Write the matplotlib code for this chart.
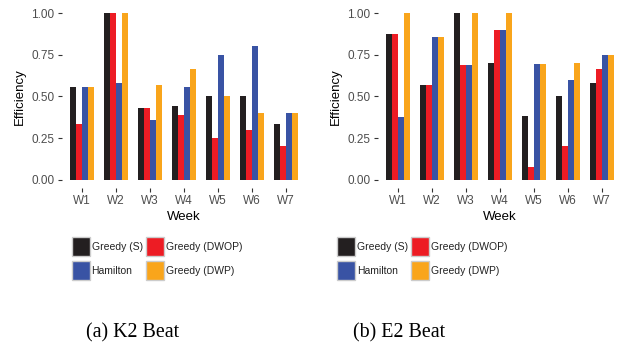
import numpy as np
import matplotlib
matplotlib.use('Agg')
import matplotlib.pyplot as plt
from matplotlib.patches import Patch

weeks = ['W1', 'W2', 'W3', 'W4', 'W5', 'W6', 'W7']
methods = ['Greedy (S)', 'Greedy (DWOP)', 'Hamilton', 'Greedy (DWP)']
colors = ['#231F20', '#ED1C24', '#3953A4', '#F9A51B']

# K2 Beat
k2_greedy_s = [0.556, 1.0, 0.429, 0.444, 0.5, 0.5, 0.333]
k2_greedy_dwop = [0.333, 1.0, 0.429, 0.389, 0.25, 0.3, 0.2]
k2_hamilton = [0.556, 0.583, 0.357, 0.556, 0.75, 0.8, 0.4]
k2_greedy_dwp = [0.556, 1.0, 0.571, 0.667, 0.5, 0.4, 0.4]

# E2 Beat
e2_greedy_s = [0.875, 0.571, 1.0, 0.7, 0.385, 0.5, 0.583]
e2_greedy_dwop = [0.875, 0.571, 0.6875, 0.9, 0.077, 0.2, 0.667]
e2_hamilton = [0.375, 0.857, 0.6875, 0.9, 0.692, 0.6, 0.75]
e2_greedy_dwp = [1.0, 0.857, 1.0, 1.0, 0.692, 0.7, 0.75]

plt.rcParams['font.family'] = ['Liberation Sans', 'DejaVu Sans']

fig = plt.figure(figsize=(6.21, 3.49), dpi=100)

W = 621.0
H = 349.0
ax1 = fig.add_axes([61.6 / W, (H - 188) / H, (306 - 61.6) / W, (188 - 4.7) / H])
ax2 = fig.add_axes([377.6 / W, (H - 188) / H, (622.4 - 377.6) / W, (188 - 4.7) / H])

panels = [
    (ax1, [k2_greedy_s, k2_greedy_dwop, k2_hamilton, k2_greedy_dwp], 157, '(a) K2 Beat', 133),
    (ax2, [e2_greedy_s, e2_greedy_dwop, e2_hamilton, e2_greedy_dwp], 422, '(b) E2 Beat', 399),
]

x = np.arange(len(weeks))
bw = 0.175
for ax, series, legx, caption, capx in panels:
    for i, vals in enumerate(series):
        ax.bar(x + (i - 1.5) * bw, vals, width=bw, color=colors[i], linewidth=0)
    ax.set_xlim(-0.6, 6.6)
    ax.set_ylim(-0.05, 1.05)
    ax.set_xticks(x)
    ax.set_xticklabels(weeks)
    ax.set_yticks([0, 0.25, 0.5, 0.75, 1.0])
    ax.set_yticklabels(['0.00', '0.25', '0.50', '0.75', '1.00'])
    for s in ax.spines.values():
        s.set_visible(False)
    ax.tick_params(axis='both', labelsize=8.5, labelcolor='#4D4D4D', color='#333333',
                   length=3, width=0.8, pad=2)
    ax.set_xlabel('Week', fontsize=9.5, labelpad=3)
    ax.set_ylabel('Efficiency', fontsize=9.5, labelpad=4)

    handles = [Patch(facecolor=colors[0], edgecolor='#CCCCCC', linewidth=1, label=methods[0]),
               Patch(facecolor=colors[2], edgecolor='#CCCCCC', linewidth=1, label=methods[2]),
               Patch(facecolor=colors[1], edgecolor='#CCCCCC', linewidth=1, label=methods[1]),
               Patch(facecolor=colors[3], edgecolor='#CCCCCC', linewidth=1, label=methods[3])]
    leg = fig.legend(handles=handles, ncol=2, loc='upper center',
                     bbox_to_anchor=(legx / W, (H - 237) / H), frameon=False,
                     fontsize=7.5, handlelength=1.73, handleheight=2.43,
                     handletextpad=0.2, columnspacing=0.3, labelspacing=0.5,
                     borderpad=0, borderaxespad=0)
    for t in leg.get_texts():
        t.set_color('#222222')

    fig.text(capx / W, (H - 333) / H, caption, ha='center', va='center',
             fontsize=14.4, family='Liberation Serif')

fig.savefig('out.png', dpi=100)
